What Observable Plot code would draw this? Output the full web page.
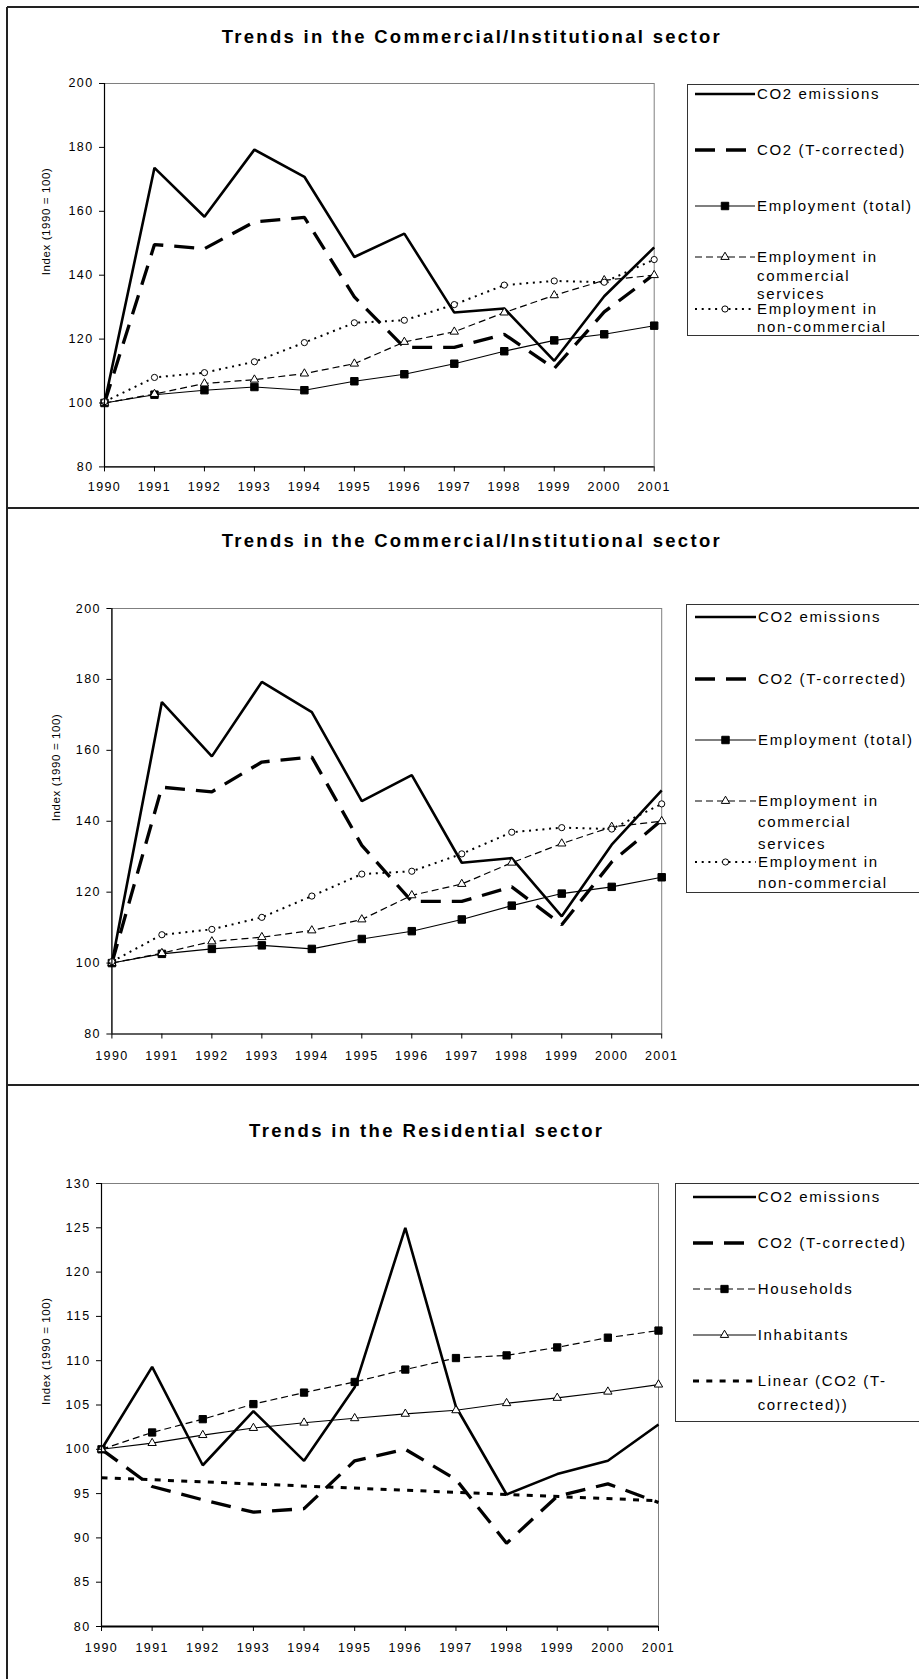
<!DOCTYPE html>
<html>
<head>
<meta charset="utf-8">
<script src="https://cdn.jsdelivr.net/npm/d3@7"></script>
<script src="https://cdn.jsdelivr.net/npm/@observablehq/plot@0.6"></script>
<style>
html, body { margin: 0; padding: 0; background: #fff; }
#page { position: relative; width: 919px; height: 1679px; overflow: hidden; font-family: "Liberation Sans", Arial, sans-serif; color: #000; }
.hline { position: absolute; left: 7px; width: 1000px; height: 0; border-top: 2px solid #222; }
.vline { position: absolute; top: 7px; left: 6px; width: 0; height: 2000px; border-left: 2px solid #222; }
.legend { position: absolute; width: 400px; border: 1px solid #333; overflow: hidden; background: #fff; }
.legtext { position: absolute; font-size: 15px; letter-spacing: 1.65px; line-height: 18px; height: 18px; white-space: nowrap; }
.legsample { position: absolute; }
</style>
</head>
<body>
<div id="page"></div>
<script>
// ---------------- DATA ----------------
const years = [1990, 1991, 1992, 1993, 1994, 1995, 1996, 1997, 1998, 1999, 2000, 2001];

// Commercial / Institutional sector (index 1990 = 100)
const commCO2 = [100, 173.6, 158.3, 179.3, 170.8, 145.7, 153.0, 128.3, 129.6, 113.2, 133.4, 148.7];
const commCO2T = [100, 149.6, 148.3, 156.7, 158.1, 133.2, 117.4, 117.4, 121.5, 110.8, 128.5, 140.3];
const commEmpTotal = [100, 102.6, 104.0, 105.0, 104.0, 106.8, 109.0, 112.3, 116.2, 119.6, 121.5, 124.2];
const commEmpCommercial = [100, 102.8, 106.1, 107.3, 109.2, 112.3, 119.1, 122.3, 128.3, 133.7, 138.4, 140.0];
const commEmpNonCommercial = [100.4, 108.0, 109.5, 112.9, 118.9, 125.1, 125.9, 130.8, 136.9, 138.2, 137.8, 144.9];

// Residential sector (index 1990 = 100)
const resCO2 = [100, 109.3, 98.2, 104.3, 98.7, 107.0, 125.0, 104.8, 94.9, 97.2, 98.7, 102.8];
const resCO2T = [100, 95.8, 94.3, 92.9, 93.3, 98.7, 100.0, 96.6, 89.4, 94.7, 96.1, 94.0];
const resHouseholds = [100, 101.9, 103.4, 105.1, 106.4, 107.6, 109.0, 110.3, 110.6, 111.5, 112.6, 113.4];
const resInhabitants = [100, 100.7, 101.6, 102.4, 103.0, 103.5, 104.0, 104.4, 105.2, 105.8, 106.5, 107.3];
const resTrendYears = [1990, 2001];
const resTrend = [96.8, 94.2];

// Ticks and text
const commTicksY = [80, 100, 120, 140, 160, 180, 200];
const resTicksY = [80, 85, 90, 95, 100, 105, 110, 115, 120, 125, 130];
const yLabel = "Index (1990 = 100)";
const commTitle = "Trends in the Commercial/Institutional sector";
const resTitle = "Trends in the Residential sector";
const commNames = ["CO2 emissions", "CO2 (T-corrected)", "Employment (total)", "Employment in commercial services", "Employment in non-commercial"];
const resNames = ["CO2 emissions", "CO2 (T-corrected)", "Households", "Inhabitants", "Linear (CO2 (T-corrected))"];

// ---------------- STYLES ----------------
const S = {
  solidThick: {width: 2.6, dash: null},
  longDash: {width: 3.3, dash: "20,11", sampleW: 52},
  thin: {width: 1.1, dash: null},
  dashThin: {width: 1.2, dash: "7,4"},
  dotted: {width: 2, dash: "2,4.7"},
  trendDots: {width: 3, dash: "6,7.3"}
};

const commSeries = [
  {name: commNames[0], x: years, values: commCO2, ...S.solidThick},
  {name: commNames[1], x: years, values: commCO2T, ...S.longDash},
  {name: commNames[2], x: years, values: commEmpTotal, ...S.thin, marker: "square", r: 4.2, fill: "#000"},
  {name: commNames[3], x: years, values: commEmpCommercial, ...S.dashThin, marker: "triangle", r: 3.1, fill: "#fff"},
  {name: commNames[4], x: years, values: commEmpNonCommercial, ...S.dotted, marker: "circle", r: 3.1, fill: "#fff"}
];
const resSeries = [
  {name: resNames[0], x: years, values: resCO2, ...S.solidThick},
  {name: resNames[1], x: years, values: resCO2T, ...S.longDash},
  {name: resNames[2], x: years, values: resHouseholds, ...S.dashThin, marker: "square", r: 4.1, fill: "#000"},
  {name: resNames[3], x: years, values: resInhabitants, ...S.thin, marker: "triangle", r: 3.1, fill: "#fff"},
  {name: resNames[4], x: resTrendYears, values: resTrend, ...S.trendDots}
];

const page = document.getElementById("page");

function addDiv(cls, styles, parent) {
  const d = document.createElement("div");
  d.className = cls;
  Object.assign(d.style, styles);
  (parent || page).appendChild(d);
  return d;
}
// Frame lines
addDiv("vline", {});
addDiv("hline", {top: "6px"});
addDiv("hline", {top: "507px"});
addDiv("hline", {top: "1084px"});

// Title (SVG text stretched to the measured width)
function addTitle(text, cx, cy, width) {
  const ns = "http://www.w3.org/2000/svg";
  const svg = document.createElementNS(ns, "svg");
  svg.setAttribute("width", 919);
  svg.setAttribute("height", 30);
  svg.style.position = "absolute";
  svg.style.left = "0px";
  svg.style.top = (cy - 15) + "px";
  const t = document.createElementNS(ns, "text");
  t.setAttribute("x", cx - width / 2);
  t.setAttribute("y", 15);
  t.setAttribute("dominant-baseline", "central");
  t.setAttribute("font-family", "Liberation Sans, Arial, sans-serif");
  t.setAttribute("font-weight", "bold");
  t.setAttribute("font-size", "18.5");
  t.setAttribute("textLength", width);
  t.setAttribute("lengthAdjust", "spacing");
  t.textContent = text;
  svg.appendChild(t);
  page.appendChild(svg);
}

function makePlot({series, yDomain, yTicks, box, labelDx, axisWidth, xPad}) {
  const W = 700;
  const top = box.top - 20;
  const H = box.bottom - top + 45;
  const marks = [Plot.frame({stroke: "#7f7f7f", strokeWidth: 1})];
  const tables = series.map(s => s.x.map((yr, i) => ({year: yr, value: s.values[i]})));
  series.forEach((s, k) => {
    marks.push(Plot.line(tables[k], {x: "year", y: "value", stroke: "#000", strokeWidth: s.width, strokeDasharray: s.dash, strokeLinejoin: "miter", strokeLinecap: "butt"}));
  });
  series.forEach((s, k) => {
    if (s.marker) marks.push(Plot.dot(tables[k], {x: "year", y: "value", symbol: s.marker, r: s.r, fill: s.fill, stroke: "#000", strokeWidth: 1}));
  });
  marks.push(Plot.ruleX([years[0]], {stroke: "#000", strokeWidth: 1.2}));
  marks.push(Plot.ruleY([yDomain[0]], {stroke: "#000", strokeWidth: axisWidth}));
  marks.push(Plot.axisY({ticks: yTicks, tickSize: 5, tickPadding: 6, label: null, fontSize: 12.5}));
  marks.push(Plot.axisX({ticks: years, tickFormat: d => String(d), tickSize: 5, tickPadding: xPad, label: null, fontSize: 12.5}));
  marks.push(Plot.text([yLabel], {frameAnchor: "left", rotate: -90, dx: labelDx, fontSize: 11.5}));
  const svg = Plot.plot({
    width: W,
    height: H,
    marginLeft: box.left,
    marginRight: W - box.right,
    marginTop: 20,
    marginBottom: H - 20 - (box.bottom - box.top),
    x: {domain: [1990, 2001]},
    y: {domain: yDomain},
    marks,
    style: {position: "absolute", left: "0px", top: top + "px", overflow: "visible", background: "transparent",
            fontFamily: "Liberation Sans, Arial, sans-serif", letterSpacing: "1.4px", color: "#000"}
  });
  svg.querySelectorAll("text").forEach(t => { if (t.textContent.startsWith("Index")) t.style.letterSpacing = "0.6px"; });
  page.appendChild(svg);
}

// Legend
function addLegend(box, series, entries) {
  const lg = addDiv("legend", {left: box.left + "px", top: box.top + "px", height: (box.bottom - box.top) + "px"});
  const ns = "http://www.w3.org/2000/svg";
  entries.forEach((e, k) => {
    const s = series[k];
    const cy = e.lines[0] - box.top - 1;
    const svg = document.createElementNS(ns, "svg");
    svg.setAttribute("width", 70); svg.setAttribute("height", 16);
    svg.setAttribute("class", "legsample");
    svg.style.left = (box.sampleX - box.left - 1) + "px";
    svg.style.top = (cy - 8) + "px";
    const ln = document.createElementNS(ns, "line");
    ln.setAttribute("x1", 0); ln.setAttribute("x2", s.sampleW || box.sampleW);
    ln.setAttribute("y1", 8); ln.setAttribute("y2", 8);
    ln.setAttribute("stroke", "#000");
    ln.setAttribute("stroke-width", s.width);
    if (s.dash) ln.setAttribute("stroke-dasharray", s.dash);
    svg.appendChild(ln);
    if (s.marker) {
      const size = Math.PI * s.r * s.r;
      const sym = {square: d3.symbolSquare, triangle: d3.symbolTriangle, circle: d3.symbolCircle}[s.marker];
      const p = document.createElementNS(ns, "path");
      p.setAttribute("d", d3.symbol(sym, size)());
      p.setAttribute("transform", `translate(${box.sampleW / 2},8)`);
      p.setAttribute("fill", s.fill);
      p.setAttribute("stroke", "#000");
      p.setAttribute("stroke-width", 1);
      svg.appendChild(p);
    }
    lg.appendChild(svg);
    e.text.forEach((txt, j) => {
      const d = addDiv("legtext", {}, lg);
      d.textContent = txt;
      d.style.left = (box.textX - box.left - 1) + "px";
      d.style.top = (e.lines[j] - box.top - 1 - 9) + "px";
    });
  });
}

// ---------------- PANEL 1 ----------------
addTitle(commTitle, 470.7, 36, 498);
makePlot({series: commSeries, yDomain: [80, 200], yTicks: commTicksY,
  box: {left: 104, right: 653.7, top: 83.3, bottom: 466.7}, labelDx: -58, axisWidth: 1.2, xPad: 10});
addLegend({left: 687, top: 84, bottom: 334, sampleX: 695, sampleW: 60, textX: 757}, commSeries, [
  {text: ["CO2 emissions"], lines: [94.3]},
  {text: ["CO2 (T-corrected)"], lines: [150]},
  {text: ["Employment (total)"], lines: [205.7]},
  {text: ["Employment in", "commercial", "services"], lines: [257.3, 275.7, 294]},
  {text: ["Employment in", "non-commercial"], lines: [309.3, 327.3]}
]);

// ---------------- PANEL 2 ----------------
addTitle(commTitle, 470.7, 540, 498);
makePlot({series: commSeries, yDomain: [80, 200], yTicks: commTicksY,
  box: {left: 111.4, right: 661.2, top: 607.5, bottom: 1033}, labelDx: -56, axisWidth: 1.2, xPad: 12});
addLegend({left: 686, top: 604, bottom: 890.5, sampleX: 694.6, sampleW: 61, textX: 758}, commSeries, [
  {text: ["CO2 emissions"], lines: [616.7]},
  {text: ["CO2 (T-corrected)"], lines: [678.9]},
  {text: ["Employment (total)"], lines: [740]},
  {text: ["Employment in", "commercial", "services"], lines: [801, 822.4, 843.5]},
  {text: ["Employment in", "non-commercial"], lines: [862, 883]}
]);

// ---------------- PANEL 3 ----------------
addTitle(resTitle, 425.5, 1130, 353);
makePlot({series: resSeries, yDomain: [80, 130], yTicks: resTicksY,
  box: {left: 101, right: 658, top: 1182.5, bottom: 1625.5}, labelDx: -55, axisWidth: 2, xPad: 12});
addLegend({left: 675, top: 1183.3, bottom: 1420, sampleX: 693, sampleW: 63, textX: 757.7}, resSeries, [
  {text: ["CO2 emissions"], lines: [1197]},
  {text: ["CO2 (T-corrected)"], lines: [1243]},
  {text: ["Households"], lines: [1289.5]},
  {text: ["Inhabitants"], lines: [1335.5]},
  {text: ["Linear (CO2 (T-", "corrected))"], lines: [1381, 1405]}
]);
</script>
</body>
</html>
